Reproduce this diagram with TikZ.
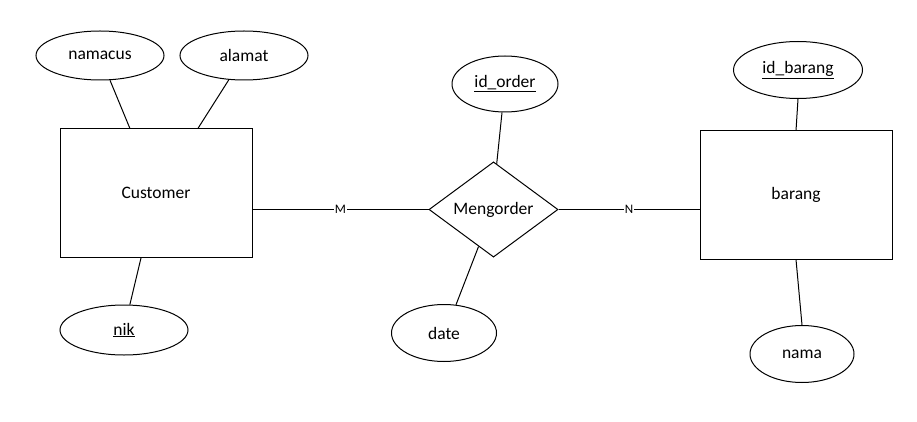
\documentclass[tikz,border=0pt]{standalone}
\usepackage{fontspec}
\setmainfont{Carlito}
\usetikzlibrary{shapes.geometric}
\begin{document}
\begin{tikzpicture}[x=1pt,y=-1pt,line width=1pt,
    entity/.style={draw,rectangle,minimum width=192pt,minimum height=128pt,inner sep=0pt},
    attr/.style={draw,ellipse,inner sep=0pt},
    rel/.style={draw,diamond,minimum width=129pt,minimum height=95pt,inner sep=0pt},
    card/.style={fill=white,inner sep=1pt,font=\fontsize{13}{15}\selectfont},
    every node/.append style={font=\fontsize{17.5}{21}\selectfont}]
      \useasboundingbox (0,0) rectangle (917,422);
      \node[entity](Customer) at(156,193){Customer};
      \node[entity](barang) at(796,195){barang};
      \node[rel](Mengorder) at(493.5,209.5){Mengorder};
      \node[attr,minimum width=128pt,minimum height=49pt](namacus) at(100,55.5){namacus};
      \node[attr,minimum width=128pt,minimum height=49pt](alamat) at(244,55.5){alamat};
      \node[attr,minimum width=128pt,minimum height=50pt](nik) at(124,330){\underline{nik}};
      \node[attr,minimum width=106pt,minimum height=56pt](idorder) at(505,84){\underline{id\_order}};
      \node[attr,minimum width=105pt,minimum height=57pt](date) at(444,333){date};
      \node[attr,minimum width=129pt,minimum height=57pt](idbarang) at(798,70){\underline{id\_barang}};
      \node[attr,minimum width=104pt,minimum height=57pt](nama) at(802,354){nama};
      \foreach \x/\y in {namacus.292/Customer.112, alamat.238/Customer.57, nik.77/Customer.257,
        idorder.264/Mengorder.86, date.67/Mengorder.248, idbarang.south/barang.north, nama.north/barang.south}{
        \draw(\x)--(\y);
      }
      \draw(Customer.east |- Mengorder.west)--node[card]{M}(Mengorder.west);
      \draw(Mengorder.east)--node[card]{N}(barang.west |- Mengorder.east);
    \end{tikzpicture}
\end{document}
